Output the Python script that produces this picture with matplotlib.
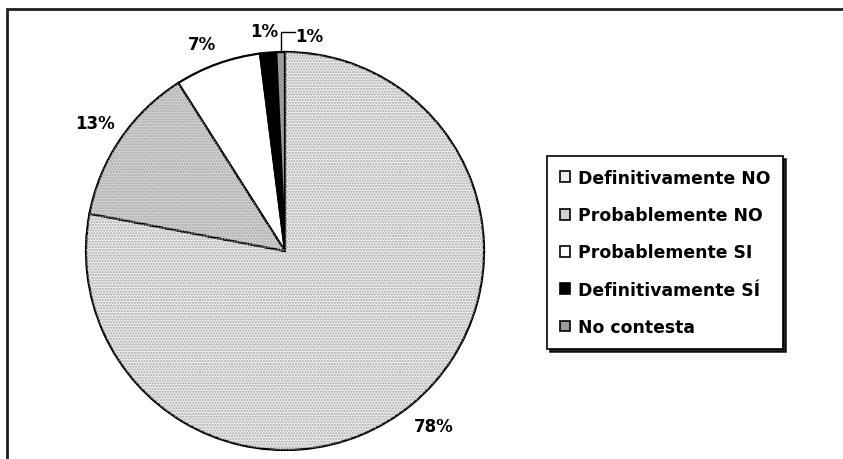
import matplotlib
matplotlib.use("Agg")
import matplotlib.pyplot as plt
from matplotlib.patches import Rectangle, Wedge
import numpy as np

# datos
categorias = ["Definitivamente NO", "Probablemente NO", "Probablemente SI",
              "Definitivamente SÍ", "No contesta"]
porcentajes = [78.0, 13.0, 7.0, 1.3, 0.7]
etiquetas = ["78%", "13%", "7%", "1%", "1%"]
colores = ["#ececec", "#d2d2d2", "#ffffff", "#000000", "#9c9c9c"]
punteado = [True, True, False, False, False]

plt.rcParams['font.family'] = ['DejaVu Sans']

W, H = 843, 460
fig = plt.figure(figsize=(W / 100, H / 100), dpi=100)

# centro y radio del pastel en pixeles
cx, cy, R = 285, 252, 199
ax = fig.add_axes([(cx - R) / W, (H - cy - R) / H, 2 * R / W, 2 * R / H])

wedges, _ = ax.pie(porcentajes, colors=colores, startangle=90, counterclock=False,
                   radius=1, wedgeprops=dict(edgecolor="black", linewidth=1.6))
ax.set_xlim(-1, 1)
ax.set_ylim(-1, 1)
ax.set_aspect("equal")
ax.axis("off")

# textura punteada
for w, p in zip(wedges, punteado):
    if p:
        ax.add_patch(Wedge(w.center, w.r, w.theta1, w.theta2, facecolor="none",
                           edgecolor="#a8a8a8", linewidth=0, hatch="......"))

# etiquetas
for i, w in enumerate(wedges):
    ang = np.deg2rad((w.theta1 + w.theta2) / 2)
    if i == len(wedges) - 1:
        # etiqueta con linea guia
        x0, y0 = np.cos(ang), np.sin(ang)
        ax.plot([x0, x0, x0 + 0.07], [y0, y0 + 0.1, y0 + 0.1], color="black",
                lw=1, clip_on=False)
        ax.text(x0 + 0.075, y0 + 0.08, etiquetas[i], ha="left", va="center",
                fontsize=12, fontweight="bold")
        continue
    d = 1.14 if i < 3 else 1.11
    off = [0.02, -0.01, -0.03, -0.01][i]
    yoff = 0.03 if i == 2 else 0
    ax.text(d * np.cos(ang) + off, d * np.sin(ang) - yoff, etiquetas[i], ha="center",
            va="center", fontsize=12, fontweight="bold")

# marco exterior (recortado)
fig.add_artist(Rectangle((7 / W, -0.1), 1.2, (H - 10) / H + 0.1, transform=fig.transFigure,
                         fill=False, edgecolor="#202020", linewidth=2))

leg = fig.legend(wedges, categorias, loc="upper left",
                 bbox_to_anchor=(547 / W, 1 - 157 / H),
                 prop=dict(weight="bold", size=12.4),
                 handlelength=0.6, handleheight=0.6, handletextpad=0.45,
                 labelspacing=1.12, borderpad=0.75, borderaxespad=0,
                 fancybox=False, edgecolor="black", framealpha=1,
                 shadow=dict(color="black", alpha=0.85))
leg.get_frame().set_linewidth(1.2)
for h in leg.legend_handles:
    h.set_linewidth(1.2)

fig.savefig("out.png", dpi=100)
